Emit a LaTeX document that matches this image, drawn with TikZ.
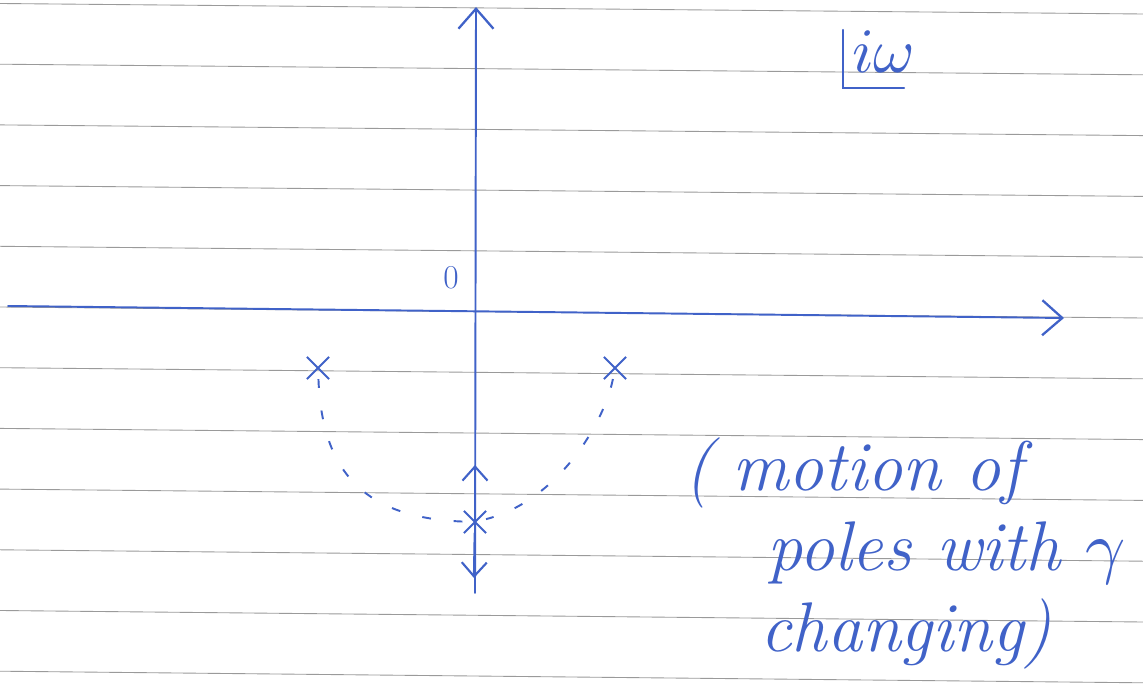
\documentclass[tikz,border=0pt]{standalone}
\usepackage{xcolor}
\usepackage{unicode-math}
\usepackage{tikz}
\usetikzlibrary{arrows.meta, positioning, calc, shapes.misc}
\definecolor{tinta}{HTML}{4062C8}
\definecolor{lapiz}{HTML}{9A9A9A}
\tikzset{
  raya/.style={draw=lapiz, line width=0.5pt},
  trazo/.style={draw=tinta, line width=1.1pt, line cap=round},
  eje/.style={trazo, -{Straight Barb[length=4mm, width=7mm, line width=1.3pt]}},
  sentido/.style={trazo, line width=1.3pt, -{Straight Barb[length=2.8mm, width=5mm, line width=1.2pt]}},
  polo/.style={cross out, draw=tinta, line width=1.2pt, minimum size=0.4cm, inner sep=0pt},
  traza/.style={draw=tinta, line width=1.1pt, dash pattern=on 5pt off 13pt},
  mano/.style={text=tinta, inner sep=0pt},
}

\begin{document}
\begin{tikzpicture}[x=0.02cm, y=-0.02cm]
  \useasboundingbox[fill=white] (0,0) rectangle (1143,692);
  % renglones del cuaderno
  \foreach \i in {0,...,11}
    \draw[raya] (0,{3.5+60.7*\i}) -- (1143,{14+60.8*\i});
  % ejes
  \coordinate (izq) at (8,306);
  \coordinate (der) at (1064,318);
  \coordinate (pie) at (475,593);
  \coordinate (cima) at (476,7);
  \draw[eje] (izq) -- (der);
  \draw[eje] (pie) -- (cima);
  \node[mano, font=\fontsize{19}{19}\selectfont] (origen) at (451,278) {0};
  % polos
  \node[polo] (p1) at (318,368) {};
  \node[polo] (p2) at (615,368) {};
  \node[polo] (p3) at (475,522) {};
  \draw[traza] (p1) .. controls (322,470) and (362,518) .. (p3);
  \draw[traza] (p2) .. controls (605,420) and (560,500) .. (p3);
  \coordinate (sube) at (475,465);
  \coordinate (baja) at (474,578);
  \draw[sentido] (p3) -- (sube);
  \draw[sentido] (p3) -- (baja);
  % plano
  \node[mano, font=\fontsize{36}{36}\selectfont] (plano) at (883,52) {$i\omega$};
  \coordinate (esq1) at (843,30);
  \coordinate (esq2) at (904,88);
  \draw[trazo, line width=1.3pt] (esq1) |- (esq2);
  % nota
  \node[mano, anchor=north west, align=left, font=\fontsize{40}{46}\selectfont\itshape] (nota) at (732,437)
    {\llap{(\hspace{0.4cm}}motion of\\\hspace*{0.7cm}poles with $\gamma$\\\hspace*{0.56cm}changing)};
\end{tikzpicture}
\end{document}
